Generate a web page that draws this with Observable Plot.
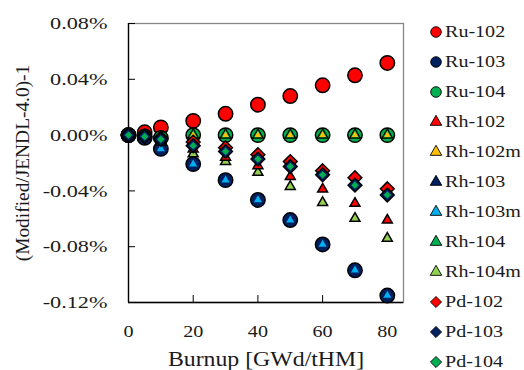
<!DOCTYPE html>
<html><head><meta charset="utf-8">
<script src="https://cdn.jsdelivr.net/npm/d3@7"></script>
<script src="https://cdn.jsdelivr.net/npm/@observablehq/plot@0.6"></script>
<style>
body{margin:0;background:#fff;}
#wrap{position:relative;width:524px;height:370px;overflow:hidden;font-family:"Liberation Serif","Times New Roman",serif;}
#legend{position:absolute;left:429px;top:16.7px;}
.item{height:30px;display:flex;align-items:center;font-size:17.6px;color:#1a1a1a;white-space:nowrap;}
.item svg{width:14px;height:14px;margin-right:2px;flex:none;}
.item span{display:inline-block;transform:scaleX(1.14);transform-origin:left center;}
</style></head><body><div id="wrap"><div id="chart"></div><div id="legend"></div></div>
<script>
// ---- data (values in %) ----
const burnup = [0, 5, 10, 20, 30, 40, 50, 60, 70, 80];
const ru102  = [0, 0.002, 0.0055, 0.0102, 0.0153, 0.0218, 0.028, 0.0357, 0.0429, 0.0517];
const ru103  = [0, -0.002, -0.0099, -0.0208, -0.0323, -0.0465, -0.0609, -0.0784, -0.0969, -0.115];
const ru104  = [0, -0.001, -0.002, 0, 0, 0, 0, 0, 0, 0];
const rh102  = [0, -0.001, -0.004, -0.010, -0.016, -0.022, -0.0297, -0.0388, -0.049, -0.061];
const rh102m = [0, -0.001, -0.002, 0, 0, 0, 0, 0, 0, 0];
const rh103  = [0, -0.002, -0.0099, -0.0208, -0.0323, -0.0465, -0.0609, -0.0784, -0.0969, -0.115];
const rh103m = [0, -0.002, -0.0099, -0.0208, -0.0323, -0.0465, -0.0609, -0.0784, -0.0969, -0.115];
const rh104  = [0, -0.001, -0.002, 0, 0, 0, 0, 0, 0, 0];
const rh104m = [0, -0.001, -0.005, -0.0135, -0.019, -0.0268, -0.0369, -0.0484, -0.0597, -0.074];
const pd102  = [0, -0.001, -0.002, -0.005, -0.009, -0.014, -0.019, -0.0256, -0.0305, -0.0385];
const pd103  = [0, -0.001, -0.003, -0.0076, -0.0117, -0.0172, -0.0225, -0.0285, -0.0359, -0.0429];
const pd104  = [0, -0.001, -0.003, -0.0076, -0.0117, -0.0172, -0.0225, -0.0285, -0.0359, -0.0429];
const seriesNames = ["Ru-102","Ru-103","Ru-104","Rh-102","Rh-102m","Rh-103","Rh-103m","Rh-104","Rh-104m","Pd-102","Pd-103","Pd-104"];
const seriesValues = [ru102, ru103, ru104, rh102, rh102m, rh103, rh103m, rh104, rh104m, pd102, pd103, pd104];
const xTicks = [0, 20, 40, 60, 80];
const yTicks = [-0.12, -0.08, -0.04, 0, 0.04, 0.08];
const xLabel = "Burnup [GWd/tHM]";
const yLabel = "(Modified/JENDL-4.0)-1";

// ---- styles ----
const styles = {
  "Ru-102": {symbol: "circle", fill: "#FF0000", r: 7.2, stroke: "#000", sw: 1.5, lr: 5.3},
  "Ru-103": {symbol: "circle", fill: "#002060", r: 7.2, stroke: "#000", sw: 1.5, lr: 5.3},
  "Ru-104": {symbol: "circle", fill: "#00B050", r: 7.2, stroke: "#000", sw: 1.5, lr: 5.3},
  "Rh-102": {symbol: "triangle", fill: "#FF0000", r: 3.7, stroke: "#000", sw: 1.5, lr: 4.3},
  "Rh-102m": {symbol: "triangle", fill: "#FFC000", r: 2.4, stroke: "none", sw: 0, lr: 4.3},
  "Rh-103": {symbol: "triangle", fill: "#002060", r: 4.3, stroke: "none", sw: 0, lr: 4.3},
  "Rh-103m": {symbol: "triangle", fill: "#00B0F0", r: 3.0, stroke: "none", sw: 0, lr: 4.3},
  "Rh-104": {symbol: "triangle", fill: "#00B050", r: 4.0, stroke: "#000", sw: 1.2, lr: 4.3},
  "Rh-104m": {symbol: "triangle", fill: "#92D050", r: 3.7, stroke: "#000", sw: 1.5, lr: 4.3},
  "Pd-102": {symbol: "diamond2", fill: "#FF0000", r: 6.2, stroke: "#000", sw: 1.5, lr: 5.0},
  "Pd-103": {symbol: "diamond2", fill: "#002060", r: 6.2, stroke: "#000", sw: 1.5, lr: 5.0},
  "Pd-104": {symbol: "diamond2", fill: "#00B050", r: 3.3, stroke: "none", sw: 0, lr: 5.0}
};
const drawOrder = ["Ru-102","Ru-104","Rh-104","Rh-102m","Ru-103","Rh-103","Rh-103m","Rh-104m","Rh-102","Pd-102","Pd-103","Pd-104"];

const rows = [];
seriesNames.forEach((name, i) => burnup.forEach((b, j) => rows.push({name, x: b, y: seriesValues[i][j]})));

const dotMarks = drawOrder.map(name => {
  const s = styles[name];
  return Plot.dot(rows.filter(d => d.name === name), {
    x: "x", y: "y", symbol: () => s.symbol, r: s.r, fill: s.fill,
    stroke: s.stroke, strokeWidth: s.sw
  });
});

const chart = Plot.plot({
  width: 524, height: 370,
  marginLeft: 128, marginRight: 121, marginTop: 23, marginBottom: 68,
  x: {domain: [0, 85]},
  y: {domain: [-0.12, 0.08]},
  symbol: {type: "identity"},
  style: {fontFamily: "'Liberation Serif','Times New Roman',serif", fontSize: "17.5px", color: "#1a1a1a", background: "transparent", overflow: "visible"},
  marks: [
    Plot.frame({stroke: "#868686", strokeWidth: 1.3}),
    Plot.ruleX([0], {stroke: "#000", strokeWidth: 1.3}),
    Plot.ruleY([-0.12], {stroke: "#000", strokeWidth: 1.3}),
    Plot.axisX({ticks: xTicks.filter(d => d > 0), tickSize: 7, dy: -7, text: null, label: null, stroke: "#000"}),
    Plot.axisY({ticks: yTicks, tickSize: 7, dx: 7, text: null, label: null, stroke: "#000"}),
    Plot.axisX({ticks: xTicks, tickSize: 0, tickPadding: 22, tickFormat: d => String(d),
      label: xLabel, labelAnchor: "center", labelOffset: 63, labelArrow: "none"}),
    Plot.axisY({ticks: yTicks, tickSize: 0, tickPadding: 21, tickFormat: d => d.toFixed(2) + "%",
      label: yLabel, labelAnchor: "center", labelOffset: 113, labelArrow: "none"}),
    ...dotMarks
  ]
});
document.getElementById("chart").appendChild(chart);

// horizontal text proportions as in reference (scale about each text's anchor point)
function stretch(sel, k, size) {
  chart.querySelectorAll(sel).forEach(t => {
    const tr = t.getAttribute("transform") || "";
    t.setAttribute("transform", `${tr} scale(${k},1)`);
    if (size) t.style.fontSize = size;
  });
}
stretch('g[aria-label="y-axis tick label"] text', 1.27);
stretch('g[aria-label="x-axis tick label"] text', 1.15);
stretch('g[aria-label="x-axis label"] text', 1.19, "20px");
chart.querySelectorAll('g[aria-label="y-axis label"] text').forEach(t => t.style.fontSize = "19.4px");

// legend
const legend = document.getElementById("legend");
seriesNames.forEach(name => {
  const s = styles[name];
  const type = s.symbol === "circle" ? d3.symbolCircle : s.symbol === "triangle" ? d3.symbolTriangle : d3.symbolDiamond2;
  const path = d3.symbol(type, Math.PI * s.lr * s.lr)();
  const item = document.createElement("div");
  item.className = "item";
  item.innerHTML = `<svg viewBox="-7 -7 14 14"><path d="${path}" fill="${s.fill}" stroke="#000" stroke-width="0.9"/></svg><span>${name}</span>`;
  legend.appendChild(item);
});
</script></body></html>
